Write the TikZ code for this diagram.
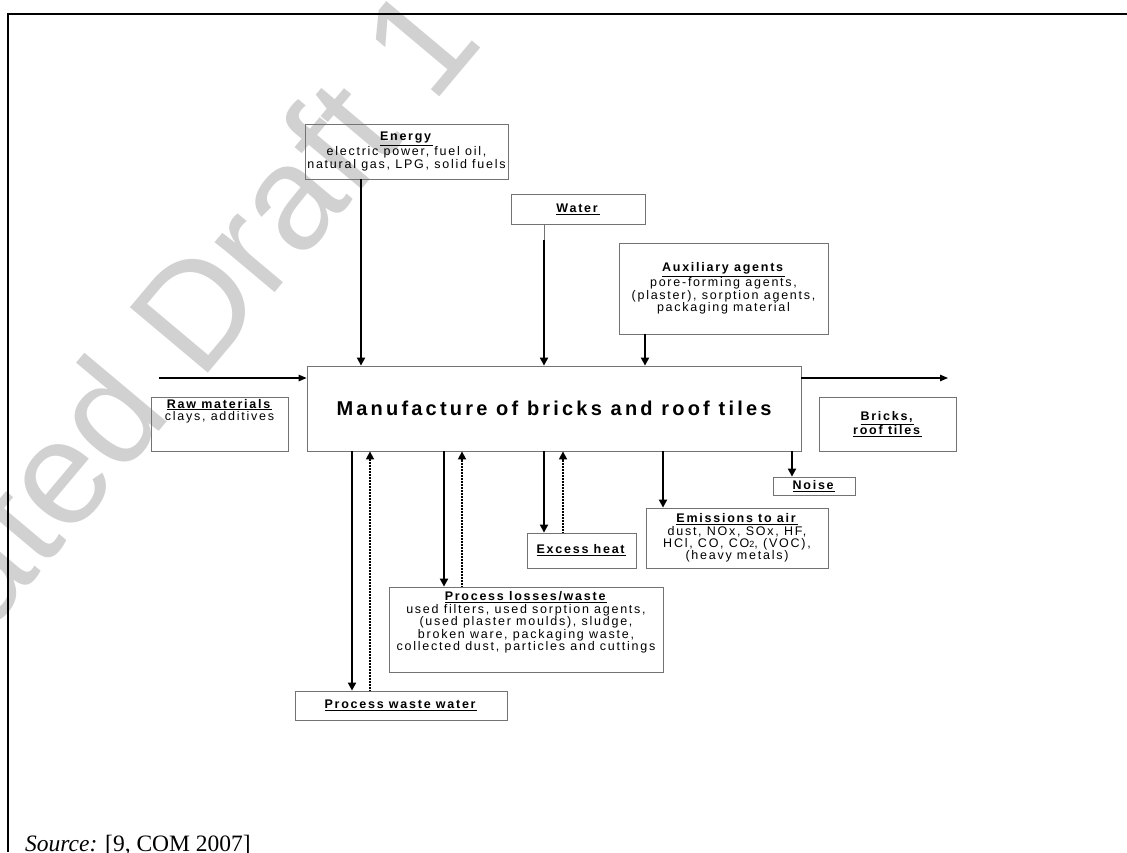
\documentclass[tikz,border=0pt]{standalone}
\usepackage{fontspec}
\setmainfont{Liberation Sans}[LetterSpace=14]
\newfontfamily\titlefont{Liberation Sans}[LetterSpace=16]
\newfontfamily\wmfont{Liberation Sans}
\newfontfamily\srcfont{Liberation Serif}
\usetikzlibrary{arrows.meta}
\begin{document}
\begin{tikzpicture}[x=1pt,y=-1pt,
  box/.style={draw=black!55, line width=0.8pt, inner sep=0pt, align=center,
    font=\fontsize{12.5}{12.4}\selectfont},
  txt/.style={inner sep=0pt, align=center, font=\fontsize{12.5}{12.4}\selectfont},
  arr/.style={line width=1.8pt, -{Triangle[length=8pt,width=8pt]}},
  thinarr/.style={line width=1.2pt, -{Triangle[length=8pt,width=6.5pt]}},
  dotarr/.style={line width=1.6pt, dash pattern=on 0.8pt off 0.7pt, -{Triangle[length=8pt,width=8pt]}}]
\useasboundingbox (0,0) rectangle (1127,852);
% watermark
\begin{scope}
\clip (0,0) rectangle (1127,852);
\node[inner sep=0pt, rotate=50, anchor=base east, text=black!18,
  font=\wmfont\fontsize{148}{148}\selectfont] (wmk) at (486,42) {Updated Draft 1};
\end{scope}
% frame
\draw[line width=1.6pt] (8,852) -- (8,14) -- (1127,14);
% boxes
\node[box, minimum width=203, minimum height=55] (energy) at (406.5,151.5)
  {\underline{\textbf{Energy}}\\electric power, fuel oil,\\natural gas, LPG, solid fuels};
\node[box, minimum width=134, minimum height=30] (water) at (578,209)
  {\underline{\textbf{Water}}};
\node[box, minimum width=209, minimum height=91] (aux) at (723.5,288.5)
  {\underline{\textbf{Auxiliary agents}}\\pore-forming agents,\\(plaster), sorption agents,\\packaging material};
\node[box, minimum width=494, minimum height=85,
  font=\titlefont\fontsize{20}{22}\selectfont\bfseries] (main) at (554,408.5)
  {Manufacture of bricks and roof tiles};
\node[box, minimum width=137, minimum height=54] (raw) at (219.5,424) {};
\node[txt] (rawt) at (219.5,411) {\underline{\textbf{Raw materials}}\\clays, additives};
\node[box, minimum width=137, minimum height=54] (bricks) at (887.5,424)
  {\underline{\textbf{Bricks,}}\\\underline{\textbf{roof tiles}}};
\node[box, minimum width=82, minimum height=18] (noise) at (814,486)
  {\underline{\textbf{Noise}}};
\node[box, minimum width=182, minimum height=60] (emis) at (737,538)
  {\underline{\textbf{Emissions to air}}\\dust, NOx, SOx, HF,\\HCl, CO, CO{\fontsize{9}{9}\selectfont 2}, (VOC),\\(heavy metals)};
\node[box, minimum width=109, minimum height=35] (heat) at (581.5,550.5)
  {\underline{\textbf{Excess heat}}};
\node[box, minimum width=274, minimum height=85] (loss) at (526,629.5) {};
\node[txt] (losst) at (526,622.5)
  {\underline{\textbf{Process losses/waste}}\\used filters, used sorption agents,\\(used plaster moulds), sludge,\\broken ware, packaging waste,\\collected dust, particles and cuttings};
\node[box, minimum width=212, minimum height=29] (wastew) at (401,705.5)
  {\underline{\textbf{Process waste water}}};
\node[inner sep=0pt, anchor=base west, font=\srcfont\fontsize{23.5}{26}\selectfont] (src) at (25,851)
  {\textit{Source:} [9, COM 2007]};
% guide coordinates
\coordinate (xe) at (361,0);
\coordinate (xw) at (544,0);
\coordinate (wb) at (544,240);
\coordinate (xa) at (645,0);
\coordinate (xn) at (792,0);
\coordinate (xm) at (663,0);
\coordinate (xh) at (563,0);
\coordinate (xl) at (444,0);
\coordinate (xlu) at (462,0);
\coordinate (xp) at (352,0);
\coordinate (xpu) at (370,0);
\coordinate (rin) at (159,378);
\coordinate (pout) at (948,378);
% connectors
\draw[arr] (energy.south -| xe) -- (main.north -| xe);
\draw[line width=0.8pt, black!55] (water.south -| xw) -- (wb);
\draw[arr] (wb) -- (main.north -| xw);
\draw[arr] (aux.south -| xa) -- (main.north -| xa);
\draw[thinarr] (rin) -- (main.west |- rin);
\draw[thinarr] (main.east |- pout) -- (pout);
\draw[arr] (main.south -| xn) -- (noise.north -| xn);
\draw[arr] (main.south -| xm) -- (emis.north -| xm);
\draw[arr] (main.south -| xw) -- (heat.north -| xw);
\draw[dotarr] (heat.north -| xh) -- (main.south -| xh);
\draw[arr] (main.south -| xl) -- (loss.north -| xl);
\draw[dotarr] (loss.north -| xlu) -- (main.south -| xlu);
\draw[arr] (main.south -| xp) -- (wastew.north -| xp);
\draw[dotarr] (wastew.north -| xpu) -- (main.south -| xpu);
\end{tikzpicture}
\end{document}
